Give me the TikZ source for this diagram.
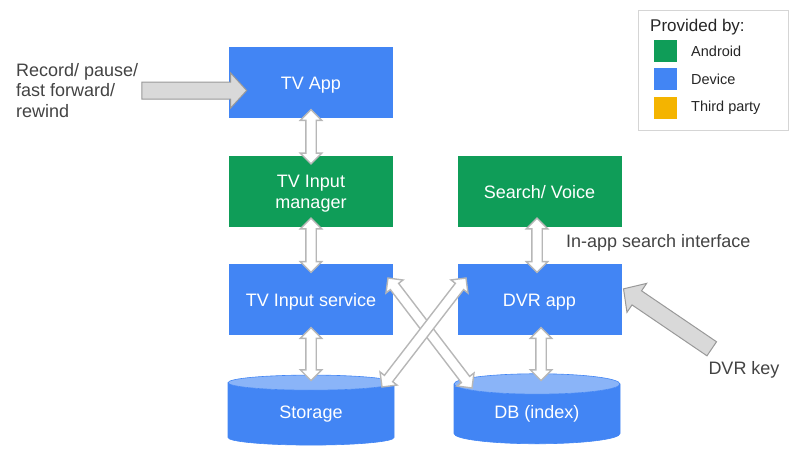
\documentclass[tikz,border=0pt]{standalone}
\usepackage{fontspec}
\setmainfont{Liberation Sans}
\usetikzlibrary{shapes.geometric,shapes.arrows,calc}

\definecolor{devblue}{HTML}{4285F4}
\definecolor{andgreen}{HTML}{0F9D58}
\definecolor{thirdyellow}{HTML}{F4B400}
\definecolor{disktop}{HTML}{8AB4F8}
\definecolor{linkgray}{HTML}{B7B7B7}
\definecolor{pushgray}{HTML}{999999}
\definecolor{pushfill}{HTML}{D9D9D9}
\definecolor{textgray}{HTML}{434343}
\definecolor{framegray}{HTML}{D5D5D5}

\tikzset{
  box/.style={rectangle, minimum width=164pt, minimum height=71pt, inner sep=0pt,
    text=white, align=center, text height=14pt, text depth=0pt,
    font=\fontsize{18}{21}\selectfont},
  dev/.style={box, fill=devblue},
  andr/.style={box, fill=andgreen},
  disk/.style={cylinder, shape border rotate=90, aspect=0.24, minimum width=166pt,
    minimum height=70pt, inner sep=0pt, draw=devblue, line width=0.6pt,
    cylinder uses custom fill, cylinder body fill=devblue, cylinder end fill=disktop,
    text=white, font=\fontsize{18}{21}\selectfont},
  link/.style={double arrow, draw=linkgray, fill=white, line width=1.4pt, inner xsep=0pt,
    inner ysep=4.5pt, double arrow head extend=5.5pt, double arrow tip angle=90},
  push/.style={single arrow, draw=pushgray, fill=pushfill, line width=1pt, inner xsep=0pt,
    inner ysep=8pt, single arrow head extend=9pt, single arrow tip angle=95},
  lbl/.style={text=textgray, inner sep=0pt, font=\fontsize{18}{20.5}\selectfont},
  swatch/.style={minimum width=23pt, minimum height=22pt, inner sep=0pt},
  item/.style={anchor=west, inner sep=0pt, text=black!85, font=\fontsize{14.5}{17}\selectfont}
}

% hollow double arrow between two points, #1 = extra length
\newcommand{\dblarrow}[3][0]{%
  \path let \p1=#2, \p2=#3, \n1={veclen(\x2-\x1,\y2-\y1)}, \n2={atan2(\y2-\y1,\x2-\x1)} in
    node[link, minimum height={\n1+#1pt}, rotate=\n2] at ($(\p1)!0.5!(\p2)$) {};}
% fat grey arrow from tail to tip
\newcommand{\sglarrow}[2]{%
  \path let \p1=#1, \p2=#2, \n1={veclen(\x2-\x1,\y2-\y1)}, \n2={atan2(\y2-\y1,\x2-\x1)} in
    node[push, minimum height=\n1, rotate=\n2] at ($(\p1)!0.5!(\p2)$) {};}

\begin{document}
\begin{tikzpicture}[x=1pt,y=-1pt]
\useasboundingbox (0,0) rectangle (800,453);

% blocks
\node[dev] (tvapp) at (311,82.5) {TV App};
\node[andr, text height=35pt] (manager) at (311,191) {TV Input\\manager};
\node[dev] (service) at (311,299.5) {TV Input service};
\node[disk] (storage) at (311,414) {Storage};
\node[andr] (search) at (539.5,191) {Search/ Voice};
\node[dev] (dvr) at (539.5,299.5) {DVR app};
\node[disk] (db) at (537,414) {DB (index)};

% links
\dblarrow[17]{(tvapp.south)}{(manager.north)}
\dblarrow[17]{(manager.south)}{(service.north)}
\dblarrow[15]{(service.south)}{($(storage.center)+(0,-41)$)}
\dblarrow[17]{($(search.south)+(-2.5,0)$)}{($(dvr.north)+(-2.5,0)$)}
\dblarrow[15]{($(dvr.south)+(1.5,0)$)}{($(db.center)+(4,-41)$)}
\dblarrow{($(service.center)+(77,-21.5)$)}{($(db.center)+(-65,-26)$)}
\dblarrow{($(storage.center)+(71,-27)$)}{($(dvr.center)+(-73.5,-21.5)$)}

% inputs
\coordinate (rectail) at (138,90.5);
\coordinate (keytail) at (715,351);
\sglarrow{(rectail)}{($(tvapp.west)+(14,8)$)}
\sglarrow{(keytail)}{($(dvr.east)+(5,-8.5)$)}
\node[lbl, anchor=north west, align=left] (controls) at (16,63) {Record/ pause/\\fast forward/\\rewind};
\node[lbl, anchor=west] (iface) at (566,243) {In-app search interface};
\node[lbl] (dvrkey) at (744,370) {DVR key};

% legend
\node[draw=framegray, line width=0.8pt, minimum width=150pt, minimum height=120pt] (legend) at (713,70) {};
\node[anchor=west, inner sep=0pt, text=black!85, font=\fontsize{17}{20}\selectfont] (provided) at (650,27) {Provided by:};
\node[swatch, fill=andgreen] (swand) at (665.5,51) {};
\node[item] (land) at (691,51) {Android};
\node[swatch, fill=devblue] (swdev) at (665.5,79) {};
\node[item] (ldev) at (691,79) {Device};
\node[swatch, fill=thirdyellow] (swthird) at (665.5,108) {};
\node[item] (lthird) at (691,108) {Third party};
\end{tikzpicture}
\end{document}
